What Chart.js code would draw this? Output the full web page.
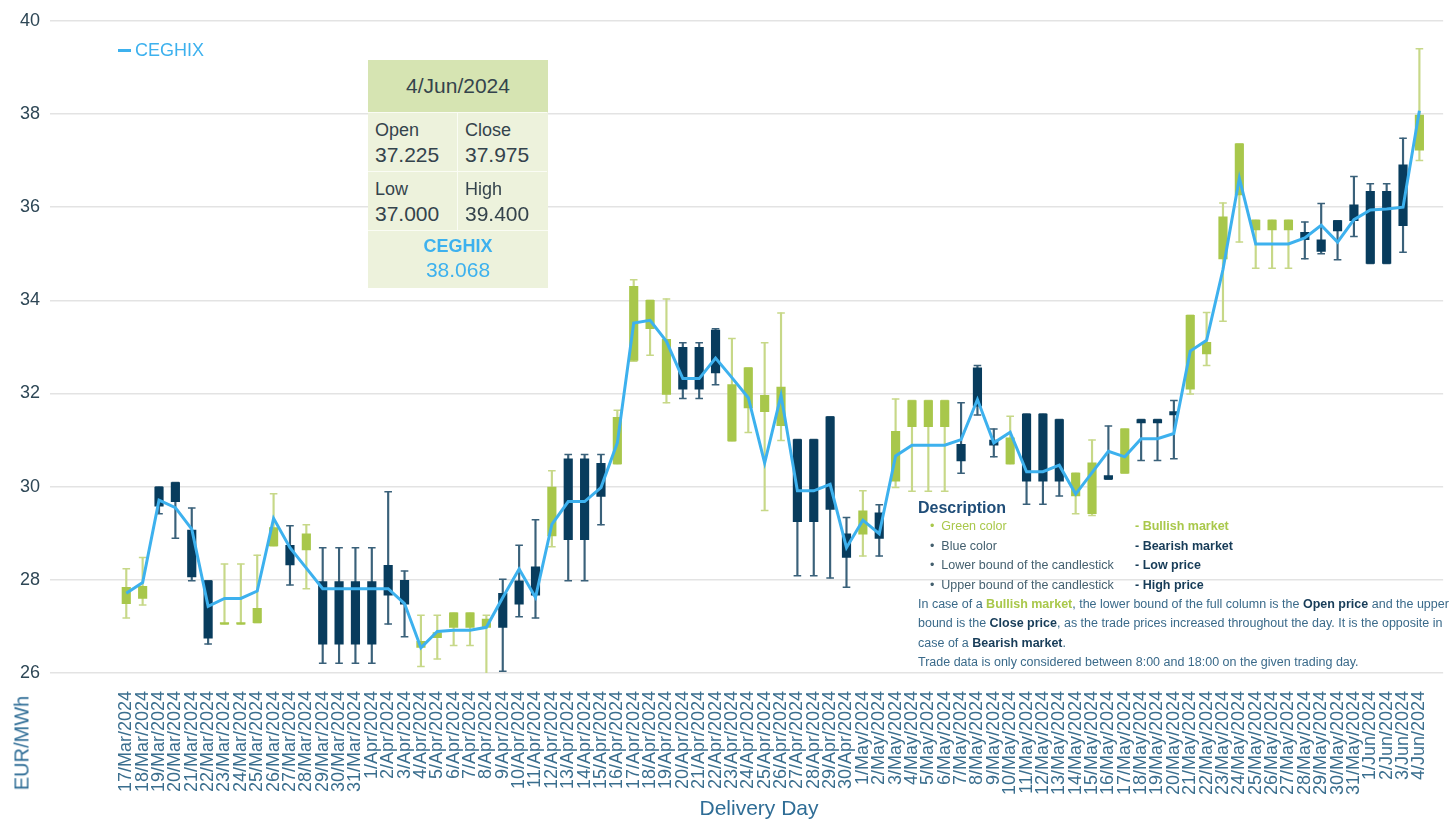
<!DOCTYPE html>
<html>
<head>
<meta charset="utf-8">
<script src="https://cdn.jsdelivr.net/npm/chart.js@4/dist/chart.umd.min.js"></script>
<style>
html,body{margin:0;padding:0;background:#ffffff;}
#wrap{position:relative;width:1451px;height:820px;overflow:hidden;font-family:"Liberation Sans",Arial,Helvetica,sans-serif;}
#c{position:absolute;left:0;top:0;}
.abs{position:absolute;white-space:nowrap;}
#legend{left:118px;top:39px;font-size:18px;line-height:22px;color:#3db1ee;}
#legend span{display:inline-block;width:13px;height:3px;background:#3db1ee;vertical-align:middle;margin-right:4px;position:relative;top:-1px;}
#tip{left:368px;top:60px;width:180px;height:228px;background:#edf2dc;color:#34434c;}
#tip .hd{position:absolute;left:0;top:0;width:180px;height:52px;background:#d6e4b2;text-align:center;line-height:52px;font-size:21px;}
#tip .cell{position:absolute;width:89px;height:58px;border-top:1px solid #fafcf4;}
#tip .lab{position:absolute;left:7px;top:6px;font-size:18px;line-height:22px;}
#tip .val{position:absolute;left:7px;top:30px;font-size:21px;line-height:24px;}
#tip .ft{position:absolute;left:0;top:170px;width:180px;height:58px;border-top:1px solid #fafcf4;text-align:center;color:#3db1ee;}
#ytitle{left:22px;top:743px;font-size:20px;color:#2f6d96;transform:translate(-50%,-50%) rotate(-90deg);}
#xtitle{left:759px;top:796px;font-size:21px;color:#2f6d96;transform:translateX(-50%);}
#desc{left:918px;top:497px;color:#3a6a8a;font-size:13px;}
#desc .t{position:absolute;left:0;top:0;font-size:16px;line-height:22px;font-weight:bold;color:#1f4d78;}
#desc .r{position:absolute;left:12px;font-size:12.5px;line-height:19px;color:#44606f;}
#desc .r2{position:absolute;left:217px;font-size:12.5px;line-height:19px;font-weight:bold;color:#173c58;}
#desc .p{position:absolute;left:0;font-size:12.5px;line-height:19px;color:#3a6a8a;}
#desc b{color:#173c58;}
.g{color:#a9c84b !important;}
</style>
</head>
<body>
<div id="wrap">
<canvas id="c" width="1451" height="820"></canvas>
<div class="abs" id="legend"><span></span>CEGHIX</div>
<div class="abs" id="tip">
  <div class="hd">4/Jun/2024</div>
  <div class="cell" style="left:0;top:52px;border-right:1px solid #fafcf4;"><div class="lab">Open</div><div class="val">37.225</div></div>
  <div class="cell" style="left:90px;top:52px;"><div class="lab">Close</div><div class="val">37.975</div></div>
  <div class="cell" style="left:0;top:111px;border-right:1px solid #fafcf4;"><div class="lab">Low</div><div class="val">37.000</div></div>
  <div class="cell" style="left:90px;top:111px;"><div class="lab">High</div><div class="val">39.400</div></div>
  <div class="ft"><div style="font-size:18px;font-weight:bold;line-height:22px;margin-top:4px;">CEGHIX</div><div style="font-size:21px;line-height:26px;">38.068</div></div>
</div>
<div class="abs" id="ytitle">EUR/MWh</div>
<div class="abs" id="xtitle">Delivery Day</div>
<div class="abs" id="desc">
  <div class="t">Description</div>
  <div class="r g" style="top:20px;">•&nbsp;&nbsp;Green color</div>
  <div class="r" style="top:39.5px;">•&nbsp;&nbsp;Blue color</div>
  <div class="r" style="top:59px;">•&nbsp;&nbsp;Lower bound of the candlestick</div>
  <div class="r" style="top:78.5px;">•&nbsp;&nbsp;Upper bound of the candlestick</div>
  <div class="r2 g" style="top:20px;">- Bullish market</div>
  <div class="r2" style="top:39.5px;">- Bearish market</div>
  <div class="r2" style="top:59px;">- Low price</div>
  <div class="r2" style="top:78.5px;">- High price</div>
  <div class="p" style="top:97.5px;">In case of a <b class="g">Bullish market</b>, the lower bound of the full column is the <b>Open price</b> and the upper</div>
  <div class="p" style="top:117px;">bound is the <b>Close price</b>, as the trade prices increased throughout the day. It is the opposite in</div>
  <div class="p" style="top:136.5px;">case of a <b>Bearish market</b>.</div>
  <div class="p" style="top:156px;">Trade data is only considered between 8:00 and 18:00 on the given trading day.</div>
</div>
</div>
<script>
const days = [
 '17/Mar/2024','18/Mar/2024','19/Mar/2024','20/Mar/2024','21/Mar/2024','22/Mar/2024','23/Mar/2024','24/Mar/2024','25/Mar/2024','26/Mar/2024',
 '27/Mar/2024','28/Mar/2024','29/Mar/2024','30/Mar/2024','31/Mar/2024',
 '1/Apr/2024','2/Apr/2024','3/Apr/2024','4/Apr/2024','5/Apr/2024','6/Apr/2024','7/Apr/2024','8/Apr/2024','9/Apr/2024','10/Apr/2024',
 '11/Apr/2024','12/Apr/2024','13/Apr/2024','14/Apr/2024','15/Apr/2024','16/Apr/2024','17/Apr/2024','18/Apr/2024','19/Apr/2024','20/Apr/2024',
 '21/Apr/2024','22/Apr/2024','23/Apr/2024','24/Apr/2024','25/Apr/2024','26/Apr/2024','27/Apr/2024','28/Apr/2024','29/Apr/2024','30/Apr/2024',
 '1/May/2024','2/May/2024','3/May/2024','4/May/2024','5/May/2024','6/May/2024','7/May/2024','8/May/2024','9/May/2024','10/May/2024',
 '11/May/2024','12/May/2024','13/May/2024','14/May/2024','15/May/2024','16/May/2024','17/May/2024','18/May/2024','19/May/2024','20/May/2024',
 '21/May/2024','22/May/2024','23/May/2024','24/May/2024','25/May/2024','26/May/2024','27/May/2024','28/May/2024','29/May/2024','30/May/2024',
 '31/May/2024','1/Jun/2024','2/Jun/2024','3/Jun/2024','4/Jun/2024'
];
const openP = [
 27.49,27.60,29.99,30.09,29.07,27.98,27.05,27.05,27.08,28.73,
 28.74,28.64,27.96,27.96,27.96,27.96,28.31,27.99,26.55,26.76,
 26.98,26.98,26.98,27.71,27.98,28.28,28.94,30.60,30.60,30.50,
 30.49,32.71,33.39,31.98,32.99,32.99,33.36,30.98,31.69,31.61,
 31.31,31.01,31.01,31.50,28.99,28.98,29.44,30.12,31.29,31.29,
 31.29,30.91,32.55,31.00,30.49,31.56,31.56,31.44,29.80,29.42,
 30.24,30.29,31.44,31.44,31.61,32.09,32.85,34.89,36.26,35.51,
 35.51,35.51,35.46,35.30,35.71,36.05,36.34,36.34,36.91,37.225
];
const highP = [
 28.24,28.48,29.99,30.09,29.54,27.98,28.34,28.34,28.53,29.85,
 29.16,29.18,28.69,28.69,28.69,28.69,29.89,28.19,27.24,27.24,
 27.29,27.29,27.24,28.01,28.74,29.29,30.34,30.69,30.69,30.69,
 31.64,34.44,34.00,34.03,33.09,33.09,33.39,33.18,32.55,33.09,
 33.73,31.01,31.01,31.50,29.34,29.91,29.61,31.88,31.85,31.85,
 31.85,31.80,32.60,31.24,31.51,31.56,31.56,31.44,30.29,31.00,
 31.30,31.24,31.44,31.44,31.85,33.68,33.74,36.09,37.36,35.72,
 35.72,35.72,35.68,36.08,35.71,36.66,36.50,36.50,37.48,39.40
];
const lowP = [
 27.18,27.46,29.42,28.89,27.98,26.62,27.05,27.05,27.08,28.73,
 27.89,27.81,26.21,26.21,26.21,26.21,27.05,26.78,26.14,26.30,
 26.59,26.59,25.98,26.04,27.21,27.18,28.71,27.98,27.98,29.18,
 30.49,32.69,32.82,31.80,31.89,31.89,32.19,30.98,31.16,29.49,
 30.99,28.09,28.09,28.04,27.84,28.51,28.51,29.98,29.90,29.90,
 29.90,30.29,31.54,30.64,30.49,29.62,29.62,29.80,29.42,29.38,
 30.16,30.29,30.56,30.56,30.60,31.99,32.60,33.55,35.25,34.69,
 34.69,34.69,34.89,35.00,34.87,35.37,34.79,34.79,35.03,37.00
];
const closeP = [
 27.84,27.86,29.58,29.68,28.06,26.75,27.08,27.08,27.39,29.12,
 28.32,28.99,26.62,26.62,26.62,26.62,27.67,27.48,26.68,26.87,
 27.29,27.29,27.16,26.98,27.48,27.67,29.99,28.86,28.86,29.79,
 31.49,34.30,34.00,33.16,32.09,32.09,32.44,32.19,32.55,31.96,
 32.14,29.25,29.25,29.51,28.48,29.48,28.89,31.19,31.85,31.85,
 31.85,30.55,31.73,30.89,31.05,30.12,30.12,30.12,30.29,30.51,
 30.16,31.24,31.37,31.37,31.54,33.68,33.10,35.79,37.36,35.72,
 35.72,35.72,35.30,35.05,35.49,35.71,34.79,34.79,35.60,37.975
];
const ceghix = [
 27.71,27.94,29.71,29.55,29.09,27.43,27.60,27.60,27.76,29.32,
 28.69,28.25,27.81,27.81,27.81,27.81,27.81,27.49,26.54,26.89,
 26.92,26.92,26.98,27.62,28.23,27.62,29.19,29.68,29.68,29.98,
 30.94,33.51,33.57,33.12,32.32,32.32,32.76,32.34,31.91,30.51,
 31.96,29.91,29.91,30.05,28.69,29.28,28.99,30.66,30.89,30.89,
 30.89,31.01,31.87,30.94,31.17,30.32,30.32,30.46,29.84,30.30,
 30.76,30.64,31.03,31.03,31.14,32.91,33.14,34.66,36.62,35.21,
 35.21,35.21,35.34,35.61,35.25,35.73,35.94,35.96,36.00,38.068
];
const yTicks = [26, 28, 30, 32, 34, 36, 38, 40];

const GREEN = '#a8c74b', GREEN_W = '#c7d888', BLUE = '#083c5d', BLUE_W = '#3a617a', LINE = '#3db1ee';
const FONT = '"Liberation Sans", Arial, Helvetica, sans-serif';
const idx = days.map((d, i) => i);
const bull = idx.map(i => closeP[i] >= openP[i]);

const capPoints = idx.map(i => ({x: i, y: lowP[i]})).concat(idx.map(i => ({x: i, y: highP[i]})));
const capColors = idx.map(i => bull[i] ? GREEN_W : BLUE_W).concat(idx.map(i => bull[i] ? GREEN_W : BLUE_W));

new Chart(document.getElementById('c'), {
  type: 'bar',
  data: {
    datasets: [
      { type: 'line', label: 'CEGHIX', data: idx.map(i => ({x: i, y: ceghix[i]})),
        borderColor: LINE, backgroundColor: LINE, borderWidth: 3, pointRadius: 0, tension: 0, order: 0 },
      { type: 'bar', label: 'body', data: idx.map(i => ({x: i, y: [openP[i], closeP[i]]})),
        backgroundColor: idx.map(i => bull[i] ? GREEN : BLUE), barThickness: 8.5, grouped: false, order: 1 },
      { type: 'scatter', label: 'caps', data: capPoints, pointStyle: 'line', pointRadius: 3.8, pointHoverRadius: 3.8,
        pointBorderWidth: 1.5, pointBorderColor: capColors, pointBackgroundColor: capColors, order: 2 },
      { type: 'bar', label: 'wick', data: idx.map(i => ({x: i, y: [lowP[i], highP[i]]})),
        backgroundColor: idx.map(i => bull[i] ? GREEN_W : BLUE_W), barThickness: 1.5, grouped: false, order: 3 }
    ]
  },
  options: {
    responsive: false,
    animation: false,
    events: [],
    layout: { padding: { left: 0, right: 0, top: 18, bottom: 0 }, autoPadding: false },
    plugins: { legend: { display: false }, tooltip: { enabled: false } },
    scales: {
      x: {
        type: 'linear', min: -4.66, max: 80.45, offset: false,
        grid: { display: false }, border: { display: false },
        afterBuildTicks: s => { s.ticks = idx.map(v => ({ value: v })); },
        afterFit: s => { s.height = 147; },
        ticks: { autoSkip: false, minRotation: 90, maxRotation: 90, padding: 10,
          color: '#3a6e8e', font: { size: 18, family: FONT },
          callback: v => days[v] }
      },
      y: {
        min: 26, max: 40,
        afterBuildTicks: s => { s.ticks = yTicks.map(v => ({ value: v })); },
        afterFit: s => { s.width = 50; },
        grid: { color: '#e3e3e3', lineWidth: 1.5, drawTicks: false }, border: { display: false },
        ticks: { padding: 10, color: '#2e4756', font: { size: 18, family: FONT } }
      }
    }
  }
});
</script>
</body>
</html>
